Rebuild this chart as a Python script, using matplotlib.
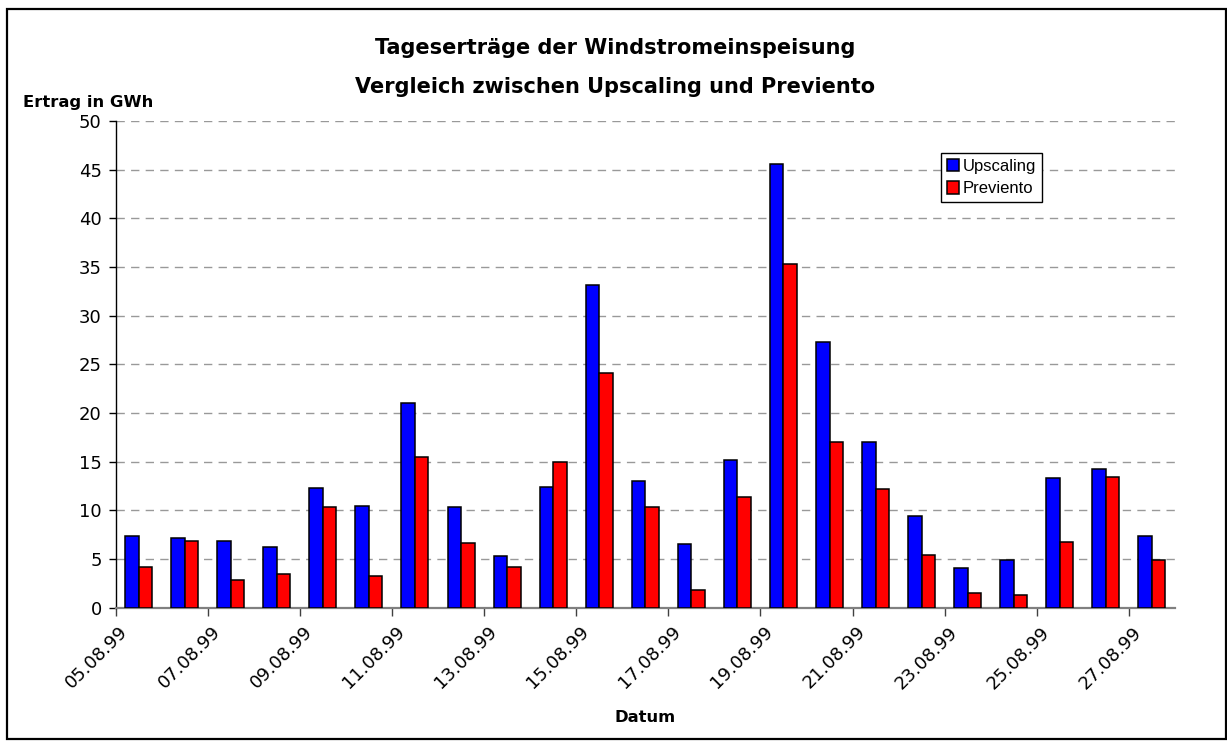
import matplotlib
matplotlib.use("Agg")
import matplotlib.pyplot as plt
import matplotlib.transforms as mtransforms
from matplotlib.patches import Rectangle
import numpy as np

# daily wind power yield (GWh), 05.08.99 - 27.08.99
dates = ["05.08.99", "06.08.99", "07.08.99", "08.08.99", "09.08.99", "10.08.99",
         "11.08.99", "12.08.99", "13.08.99", "14.08.99", "15.08.99", "16.08.99",
         "17.08.99", "18.08.99", "19.08.99", "20.08.99", "21.08.99", "22.08.99",
         "23.08.99", "24.08.99", "25.08.99", "26.08.99", "27.08.99"]
upscaling = [7.4, 7.2, 6.9, 6.2, 12.3, 10.4, 21.0, 10.3, 5.3, 12.4, 33.2, 13.0,
             6.5, 15.2, 45.6, 27.3, 17.0, 9.4, 4.1, 4.9, 13.3, 14.2, 7.4]
previento = [4.2, 6.9, 2.8, 3.5, 10.3, 3.3, 15.5, 6.6, 4.2, 15.0, 24.1, 10.3,
             1.8, 11.4, 35.3, 17.0, 12.2, 5.4, 1.5, 1.3, 6.7, 13.4, 4.9]

plt.rcParams['font.family'] = ['DejaVu Sans']

fig = plt.figure(figsize=(12.27, 7.47), dpi=100)
ax = fig.add_axes([115.6 / 1227, 1 - 607.7 / 747, (1175 - 115.6) / 1227, (607.7 - 121) / 747])

x = np.arange(len(dates))
w = 0.293
ax.bar(x - w / 2, upscaling, w, color='#0000FF', edgecolor='black', linewidth=1.1,
       label='Upscaling', zorder=3)
ax.bar(x + w / 2, previento, w, color='#FF0000', edgecolor='black', linewidth=1.1,
       label='Previento', zorder=3)

ax.set_xlim(-0.5, len(dates) - 0.5)
ax.set_ylim(0, 50)
ax.set_yticks(range(0, 51, 5))
ax.yaxis.grid(True, color='#999999', linewidth=1, dashes=(6, 4.5))
ax.set_axisbelow(True)

ax.spines['top'].set_visible(False)
ax.spines['right'].set_visible(False)
ax.spines['bottom'].set_color('#808080')
ax.spines['bottom'].set_linewidth(1.6)
ax.spines['left'].set_linewidth(1.0)

ax.tick_params(axis='y', direction='out', length=5, width=1, labelsize=13, pad=5)

# labels every 2nd day, tick marks on category boundaries
ax.set_xticks(x[::2])
ax.set_xticklabels(dates[::2])
ax.set_xticks(np.arange(-0.5, len(dates) - 1, 2), minor=True)
ax.tick_params(axis='x', which='major', length=0, labelsize=13, pad=11)
ax.tick_params(axis='x', which='minor', length=6, width=1, color='#404040', direction='out')
offset = mtransforms.ScaledTranslation(-7 / 100, 0, fig.dpi_scale_trans)
for lbl in ax.get_xticklabels():
    lbl.set_rotation(45)
    lbl.set_ha('right')
    lbl.set_va('top')
    lbl.set_transform(lbl.get_transform() + offset)

fig.text(615 / 1227, 1 - 48 / 747, 'Tageserträge der Windstromeinspeisung',
         ha='center', va='center', fontsize=15, fontweight='bold')
fig.text(615 / 1227, 1 - 87 / 747, 'Vergleich zwischen Upscaling und Previento',
         ha='center', va='center', fontsize=15, fontweight='bold')
fig.text(23 / 1227, 1 - 103 / 747, 'Ertrag in GWh', ha='left', va='center',
         fontsize=11.8, fontweight='bold')
fig.text(645 / 1227, 1 - 718 / 747, 'Datum', ha='center', va='center',
         fontsize=11.8, fontweight='bold')

leg = ax.legend(loc='upper left', bbox_to_anchor=(941 / 1227, 1 - 153 / 747),
                bbox_transform=fig.transFigure, prop={'family': 'Liberation Sans', 'size': 12},
                fancybox=False, framealpha=1, edgecolor='black', borderpad=0.35,
                handlelength=0.75, handleheight=0.75, handletextpad=0.2, labelspacing=0.45,
                borderaxespad=0)
leg.get_frame().set_linewidth(1.0)

fig.patches.append(Rectangle((7 / 1227, 1 - 739 / 747), (1226 - 7) / 1227, (739 - 9) / 747,
                             transform=fig.transFigure, fill=False, edgecolor='black',
                             linewidth=1.6))

fig.savefig('out.png', dpi=100)
